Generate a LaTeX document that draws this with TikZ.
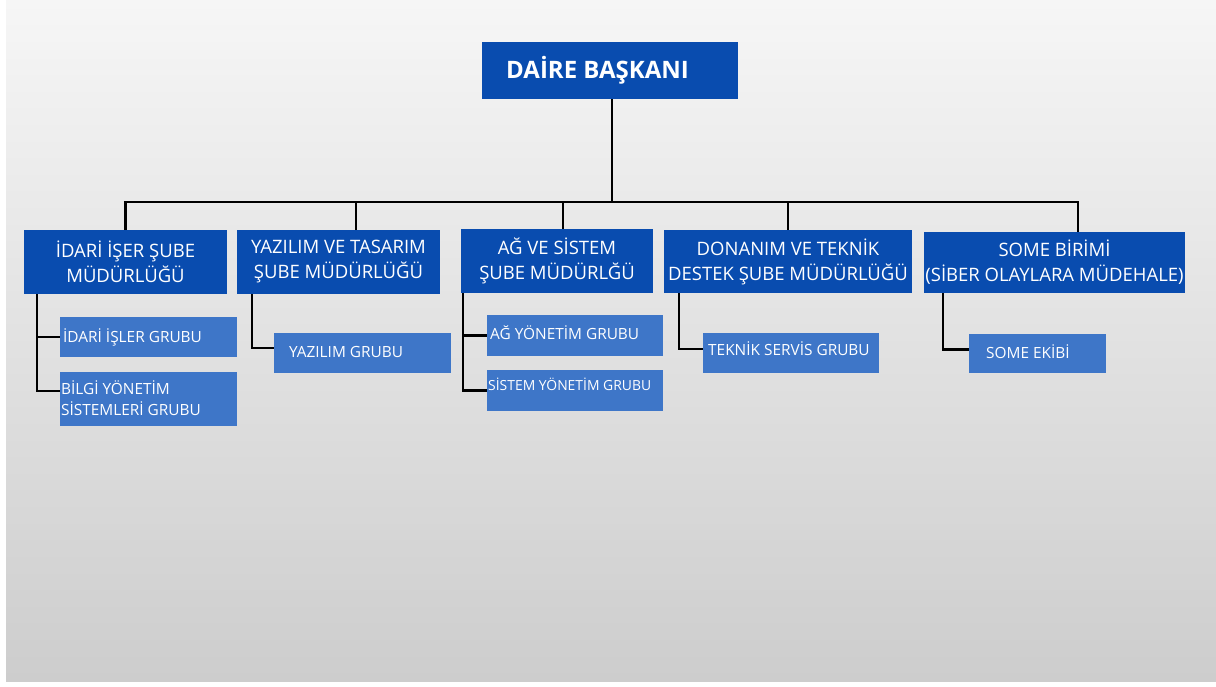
\documentclass[tikz,border=0pt]{standalone}
\usepackage{fontspec}
\setmainfont{Open Sans}
\definecolor{darkblue}{RGB}{9,76,175}
\definecolor{lightblue}{RGB}{62,118,200}
\definecolor{bgtop}{RGB}{246,246,246}
\definecolor{bgbot}{RGB}{205,205,205}
\begin{document}
\begin{tikzpicture}[x=1pt,y=-1pt,
  headbox/.style={fill=darkblue, draw=none, inner sep=0pt, text=white},
  lvlone/.style={fill=darkblue, draw=none, inner sep=0pt, text=white, align=center,
     font=\fontsize{18.5}{25}\selectfont},
  grpbox/.style={fill=lightblue, draw=none, inner sep=0pt},
  grptext/.style={text=white, inner sep=0pt, anchor=west, align=left,
     font=\fontsize{15.4}{21}\selectfont},
  wire/.style={draw=black, line width=2.5pt}]
\useasboundingbox (0,0) rectangle (1216,686);
\fill[white] (0,0) rectangle (1216,686);
\shade[top color=bgtop, bottom color=bgbot] (6,0) rectangle (1216,681);

% head
\node[headbox, minimum width=256pt, minimum height=57pt] (top) at (610,70.5) {};
\node[text=white, inner sep=0pt, font=\fontsize{24}{28}\selectfont\bfseries, anchor=west] (toptext) at (506,70) {DAİRE BAŞKANI};

% level one
\node[lvlone, minimum width=203pt, minimum height=64pt] (b1) at (125.5,262) {İDARİ İŞER ŞUBE\\MÜDÜRLÜĞÜ};
\node[lvlone, minimum width=203pt, minimum height=64pt] (b2) at (338.5,262) {YAZILIM VE TASARIM\\ŞUBE MÜDÜRLÜĞÜ};
\node[lvlone, minimum width=192pt, minimum height=64pt] (b3) at (557,261) {AĞ VE SİSTEM\\ŞUBE MÜDÜRLĞÜ};
\node[lvlone, minimum width=248pt, minimum height=63pt] (b4) at (788,261.5) {DONANIM VE TEKNİK\\DESTEK ŞUBE MÜDÜRLÜĞÜ};
\node[lvlone, minimum width=261pt, minimum height=61pt] (b5) at (1054.5,262.5) {SOME BİRİMİ\\(SİBER OLAYLARA MÜDEHALE)};

% groups
\node[grpbox, minimum width=177pt, minimum height=40pt] (c11) at (148.5,337) {};
\node[grptext] (t11) at (63,337) {İDARİ İŞLER GRUBU};
\node[grpbox, minimum width=177pt, minimum height=54pt] (c12) at (148.5,399) {};
\node[grptext] (t12) at (61,398) {BİLGİ YÖNETİM\\SİSTEMLERİ GRUBU};
\node[grpbox, minimum width=177pt, minimum height=40pt] (c21) at (362.5,353) {};
\node[grptext] (t21) at (289,352) {YAZILIM GRUBU};
\node[grpbox, minimum width=176pt, minimum height=41pt] (c31) at (575,335.5) {};
\node[grptext] (t31) at (490,333) {AĞ YÖNETİM GRUBU};
\node[grpbox, minimum width=176pt, minimum height=41pt] (c32) at (575,390.5) {};
\node[grptext, font=\fontsize{13.9}{19}\selectfont] (t32) at (488,384) {SİSTEM YÖNETİM GRUBU};
\node[grpbox, minimum width=176pt, minimum height=40pt] (c41) at (791,353) {};
\node[grptext] (t41) at (708,349) {TEKNİK SERVİS GRUBU};
\node[grpbox, minimum width=137pt, minimum height=39pt] (c51) at (1037.5,353.5) {};
\node[grptext] (t51) at (986,352) {SOME EKİBİ};

% bus
\coordinate (busL) at (125,202);
\coordinate (busR) at (1078,202);
\draw[wire] ([xshift=-1.25pt]busL) -- ([xshift=1.25pt]busR);
\draw[wire] ([xshift=2pt]top.south) -- ([xshift=2pt]top.south |- busL);
\draw[wire] (b1.north) -- (b1.north |- busL);
\draw[wire] ([xshift=17.5pt]b2.north) -- ([xshift=17.5pt]b2.north |- busL);
\draw[wire] ([xshift=6pt]b3.north) -- ([xshift=6pt]b3.north |- busL);
\draw[wire] (b4.north) -- (b4.north |- busL);
\draw[wire] ([xshift=23.5pt]b5.north) -- ([xshift=23.5pt]b5.north |- busR);

% group connectors
\draw[wire] ([xshift=-88.5pt]b1.south) |- (c11.west);
\draw[wire] ([xshift=-88.5pt]b1.south) |- ([yshift=8pt]c12.west);
\draw[wire] ([xshift=-86.5pt]b2.south) |- ([yshift=5pt]c21.west);
\draw[wire] ([xshift=-94pt]b3.south) |- (c31.west);
\draw[wire] ([xshift=-94pt]b3.south) |- (c32.west);
\draw[wire] ([xshift=-109pt]b4.south) |- ([yshift=4pt]c41.west);
\draw[wire] ([xshift=-111.5pt]b5.south) |- ([yshift=4pt]c51.west);
\end{tikzpicture}
\end{document}
